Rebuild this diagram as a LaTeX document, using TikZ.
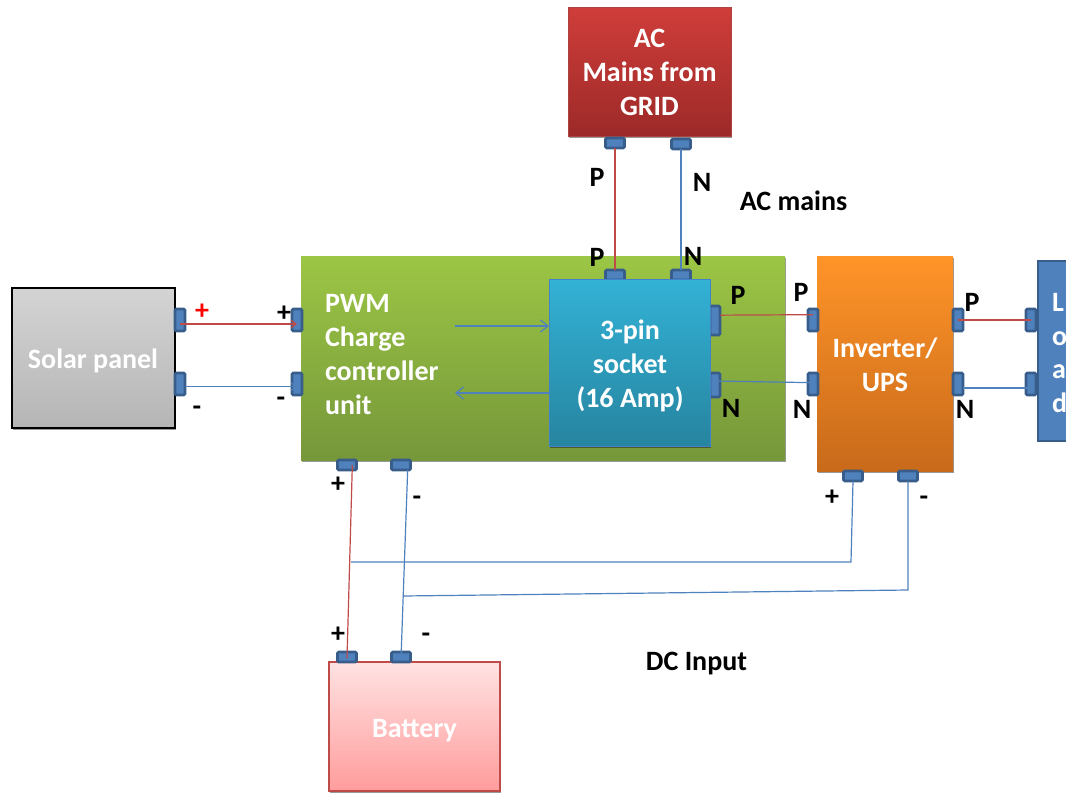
\documentclass[tikz,border=0pt]{standalone}
\usepackage{fontspec}
\setmainfont{Carlito}
\usetikzlibrary{positioning, arrows.meta, shadows}
\definecolor{wirered}{HTML}{BE4B48}
\definecolor{wireblue}{HTML}{4F81BD}
\definecolor{portedge}{HTML}{385D8A}
\def\px{0.75pt}

\begin{document}
\begin{tikzpicture}[
  x=0.75pt, y=-0.75pt,
  every node/.style={font=\bfseries\fontsize{21}{25.4}\selectfont, inner sep=0pt, outer sep=0pt},
  block/.style={rectangle, drop shadow={shadow xshift=1pt, shadow yshift=-1.5pt, opacity=0.4, fill=black}},
  boxtext/.style={text=white, align=center},
  hport/.style={rectangle, rounded corners=1pt, draw=portedge, line width=2pt, fill=wireblue, minimum width=19*\px, minimum height=10*\px},
  vport/.style={rectangle, rounded corners=1pt, draw=portedge, line width=2pt, fill=wireblue, minimum width=10*\px, minimum height=22*\px},
  lbl/.style={text=black},
  red wire/.style={wirered, line width=0.9pt},
  blue wire/.style={wireblue, line width=0.9pt},
  barb/.style={-{Straight Barb[length=1.3mm, width=2mm]}},
  bigbarb/.style={-{Straight Barb[length=2mm, width=3.2mm]}},
]
  \useasboundingbox (0,0) rectangle (1066,793);

  % boxes
  \node[block, draw=black, line width=1.2pt, top color=black!17, bottom color=black!29, minimum width=163*\px, minimum height=140*\px] (solar) at (93.5,358) {};
  \node[boxtext] (solartext) at (93,361) {Solar panel};
  \node[block, draw=black!10!wirered, top color={rgb,255:red,207;green,61;blue,58}, bottom color={rgb,255:red,156;green,42;blue,40}, minimum width=163*\px, minimum height=129*\px] (grid) at (649.5,71.5) {};
  \node[boxtext] (gridtext) at (649.5,72.5) {AC\\Mains from\\GRID};
  \node[block, top color={rgb,255:red,156;green,198;blue,69}, bottom color={rgb,255:red,118;green,151;blue,58}, minimum width=484*\px, minimum height=204*\px] (pwm) at (543,358) {};
  \node[text=white, align=left, anchor=west] (pwmtext) at (325,354.5) {PWM\\Charge\\controller\\unit};
  \node[block, top color={rgb,255:red,255;green,148;blue,40}, bottom color={rgb,255:red,200;green,106;blue,27}, minimum width=136*\px, minimum height=215*\px] (inv) at (885,363.5) {};
  \node[boxtext] (invtext) at (885,365) {Inverter/\\UPS};
  \node[block, draw=wirered, line width=1pt, top color={rgb,255:red,255;green,226;blue,226}, bottom color={rgb,255:red,255;green,156;blue,156}, minimum width=171*\px, minimum height=129*\px] (batt) at (414.5,726.5) {};
  \node[boxtext] (batttext) at (414.5,730.5) {Battery};
  \node[rectangle, draw=portedge, line width=1.8pt, fill=wireblue, minimum width=60*\px, minimum height=180*\px] (load) at (1068,351) {};
  \node[text=white, align=left, anchor=west] (loadtext) at (1052,353) {L\\o\\a\\d};

  % ports
  \foreach \n/\x/\y in {sp/180/320,sn/180/384,cp/297/320,cn/297/384,ip/813/320,inn/813/384,op/958/320,on/958/384,lp/1031/320,ln/1031/384}
    \node[vport] (\n) at (\x,\y) {};
  \foreach \n/\x/\y in {gp/615/143,gn/681/144,tp/615/275,tn/681/275,bp/347/465,bn/401/465,up/853/476,un/908/476,ap/347/657,an/401/657}
    \node[hport] (\n) at (\x,\y) {};
  \node[vport, minimum height=29*\px] (kp) at (715,320.5) {};
  \node[vport, minimum height=24*\px] (kn) at (715,385) {};

  % socket sits on top of its ports
  \node[block, draw=white!35!cyan!60!blue, line width=0.5pt, top color={rgb,255:red,51;green,178;blue,214}, bottom color={rgb,255:red,38;green,132;blue,159}, minimum width=161*\px, minimum height=167*\px] (socket) at (629.5,362.5) {};
  \node[boxtext] (sockettext) at (630,366) {3-pin\\socket\\(16 Amp)};

  % wires
  \draw[red wire, barb] ([yshift=-3pt]sp.center) -- ([yshift=-3pt]cp.center);
  \draw[blue wire, barb] ([yshift=-2pt]sn.east) -- ([yshift=-2pt]cn.center);
  \draw[red wire] (gp.south) -- (tp.north);
  \draw[blue wire] (gn.south) -- (tn.north);
  \draw[red wire] ([yshift=4pt]kp.east) -- ([yshift=4pt]ip.center);
  \draw[blue wire] ([yshift=3pt]kn.center) -- ([yshift=1pt]inn.center);
  \draw[red wire] (op.center) -- (lp.center);
  \draw[blue wire] ([yshift=-3pt]on.east) -- ([yshift=-3pt]ln.center);
  \coordinate (pwmin) at (455,326);
  \coordinate (pwmout) at (455,393);
  \coordinate (sockin) at (549,326);
  \coordinate (sockout) at (549,393);
  \draw[blue wire, bigbarb] (pwmin) -- (sockin);
  \draw[blue wire, bigbarb] (sockout) -- (pwmout);
  \draw[red wire] ([xshift=4pt]bp.center) -- ([yshift=-1pt]ap.center);
  \draw[blue wire] ([xshift=5pt]bn.south) -- ([yshift=-1pt]an.center);
  \coordinate (tapup) at (351,562);
  \coordinate (tapun) at (403,596);
  \coordinate (bendup) at (851,562);
  \coordinate (bendun) at (908,590);
  \draw[blue wire] (tapup) -- (bendup) -- (up.south);
  \draw[blue wire] (tapun) -- (bendun) -- (un.south);

  % labels
  \foreach \txt/\x/\y in {P/597/177,N/702/182,P/597/257,N/693/256,P/738/295,N/731/408,P/801/292,N/802/409,P/972/302,N/965/409,+/284/314,-/281/402,+/338/485,-/417/501,+/338/635,-/426/638,+/832/498,-/924/501}
    \node[lbl] at (\x,\y) {\txt};
  \node[text=red] (splus) at (202,312) {+};
  \node[lbl] (sminus) at (197,411) {-};
  \node[lbl] (acmains) at (793.5,201) {AC mains};
  \node[lbl] (dcinput) at (696.5,664) {DC Input};
\end{tikzpicture}
\end{document}
